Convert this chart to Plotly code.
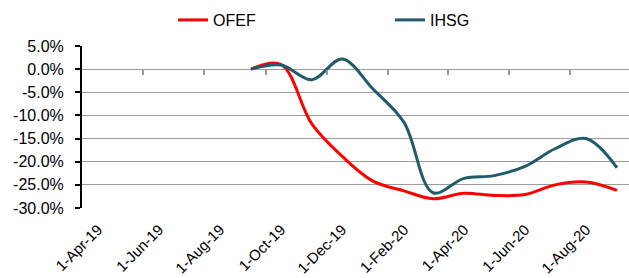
import plotly.graph_objects as go

# ---- data ----
dates = ["2019-09-01", "2019-10-01", "2019-11-01", "2019-12-01", "2020-01-01",
         "2020-02-01", "2020-03-01", "2020-04-01", "2020-05-01", "2020-06-01",
         "2020-07-01", "2020-08-01", "2020-09-01"]
ofef = [0.0, 1.0, -11.9, -18.8, -24.2, -26.3, -28.0, -26.8, -27.3, -27.1, -25.0, -24.4, -26.2]
ihsg = [0.0, 0.9, -2.3, 2.2, -4.3, -11.5, -26.7, -23.6, -23.0, -21.0, -17.2, -15.0, -21.3]

x_tick_vals = ["2019-04-01", "2019-06-01", "2019-08-01", "2019-10-01", "2019-12-01",
               "2020-02-01", "2020-04-01", "2020-06-01", "2020-08-01"]
x_tick_text = ["1-Apr-19", "1-Jun-19", "1-Aug-19", "1-Oct-19", "1-Dec-19",
               "1-Feb-20", "1-Apr-20", "1-Jun-20", "1-Aug-20"]
x_tick_marks = ["2019-05-16", "2019-07-16", "2019-09-16", "2019-11-16", "2020-01-16",
                "2020-03-16", "2020-05-16", "2020-07-16"]
y_tick_vals = [5, 0, -5, -10, -15, -20, -25, -30]
y_tick_text = ["5.0%", "0.0%", "-5.0%", "-10.0%", "-15.0%", "-20.0%", "-25.0%", "-30.0%"]

x_range = ["2019-03-16", "2020-09-13"]
y_range = [-30, 5]

FONT = "Liberation Sans, Arial, sans-serif"

fig = go.Figure()
fig.add_trace(go.Scatter(x=dates, y=ofef, name="OFEF", mode="lines",
                         line=dict(color="#ff0000", width=3, shape="spline", smoothing=1.0)))
fig.add_trace(go.Scatter(x=dates, y=ihsg, name="IHSG", mode="lines", xaxis="x2",
                         line=dict(color="#215a68", width=3, shape="spline", smoothing=1.0)))

fig.update_layout(
    width=629, height=278,
    margin=dict(l=82, r=0, t=46, b=70, autoexpand=False),
    paper_bgcolor="white", plot_bgcolor="white",
    font=dict(family=FONT, size=16, color="#000000"),
    showlegend=True,
    legend=dict(orientation="h", x=(173 - 82) / 547, xanchor="left",
                y=1 + (46 - 20) / 162, yanchor="middle",
                entrywidthmode="pixels", entrywidth=172,
                font=dict(family=FONT, size=16, color="#000000"),
                bgcolor="rgba(0,0,0,0)"),
    xaxis=dict(type="date", range=x_range, showgrid=False, zeroline=False,
               showline=False, ticks="", tickmode="array",
               tickvals=x_tick_vals, ticktext=x_tick_text, tickangle=-45,
               ticklabelstandoff=9, automargin=False,
               tickfont=dict(family=FONT, size=15, color="#000000")),
    xaxis2=dict(type="date", matches="x", overlaying="x", anchor="free",
                position=(0 - y_range[0]) / (y_range[1] - y_range[0]),
                showgrid=False, zeroline=False, showline=False,
                ticks="outside", ticklen=5, tickwidth=1.5, tickcolor="#999999",
                tickmode="array", tickvals=x_tick_marks, showticklabels=False),
    yaxis=dict(range=y_range, tickmode="array", tickvals=y_tick_vals,
               ticktext=y_tick_text, showgrid=True, gridcolor="#9c9c9c",
               gridwidth=1.3, zeroline=False, showline=True, linecolor="#000000",
               linewidth=2, ticks="outside", ticklen=5, tickcolor="#000000",
               tickwidth=1.5, ticklabelstandoff=8, automargin=False,
               tickfont=dict(family=FONT, size=16, color="#000000")),
)

fig.write_html("out.html", config={"displayModeBar": False},
               post_script="document.body.style.margin='0';document.body.style.padding='0';")
